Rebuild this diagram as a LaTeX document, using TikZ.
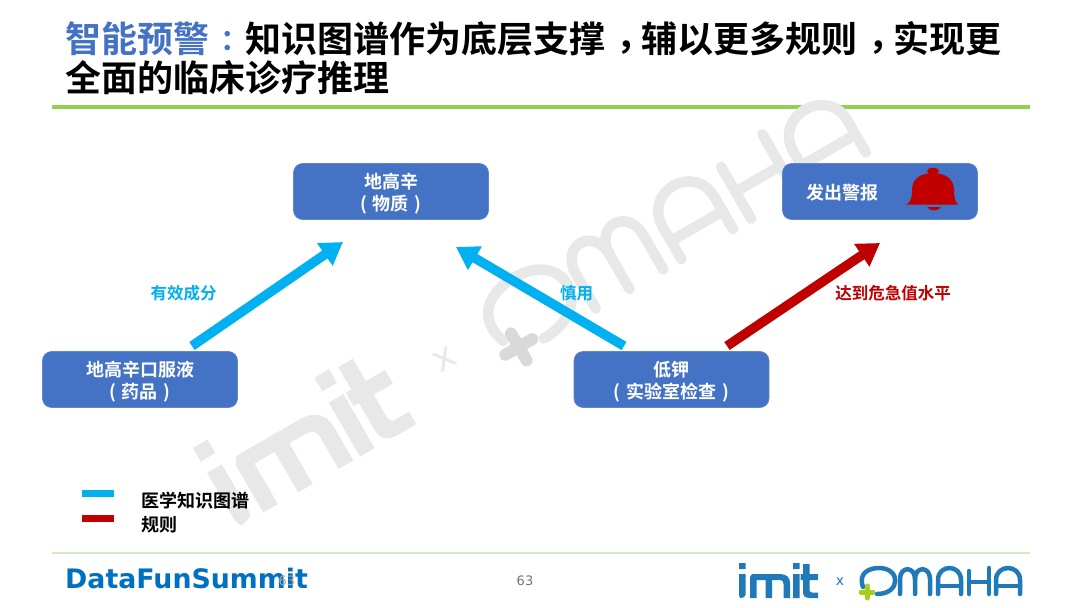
\documentclass[tikz,border=0pt]{standalone}
\usepackage{fontspec}
\setmainfont{Noto Sans CJK SC}[BoldFont={Noto Sans CJK SC Bold}]
\newfontfamily\punctfont{Noto Sans CJK SC}[BoldFont={Noto Sans CJK SC Bold},RawFeature=+halt]
\newfontfamily\latinfont{DejaVu Sans}
\usetikzlibrary{arrows.meta}
\definecolor{boxblue}{HTML}{4472C4}
\definecolor{kgcyan}{HTML}{00B0F0}
\definecolor{rulered}{HTML}{C00000}
\definecolor{titlegreen}{HTML}{92D050}
\definecolor{footgreen}{HTML}{D3EDB9}
\definecolor{dfblue}{HTML}{0070C0}
\definecolor{logoblue}{HTML}{2079B8}
\definecolor{logogreen}{HTML}{A6CE1E}
\definecolor{wm}{HTML}{E8E8E8}
\newcommand{\cma}{\hspace{11pt}\raisebox{3pt}{\punctfont ，}\hspace{7pt}}
\newcommand{\cln}{\hspace{11pt}\raisebox{2.5pt}{\punctfont\fontsize{29}{32}\selectfont ：}}
\tikzset{
  x=1pt,y=-1pt,
  box/.style={draw=boxblue!85!white,line width=.6pt,fill=boxblue,rounded corners=9pt,minimum width=195pt,minimum height=56pt,inner sep=0pt},
  boxtext/.style={inner sep=0pt,text=white,font=\bfseries\fontsize{18}{21.5}\selectfont,align=center},
  bigarrow/.style={line width=9.5pt,-{Triangle[length=22pt,width=26pt]}},
  lab/.style={font=\bfseries\fontsize{16.5}{20}\selectfont,inner sep=0pt},
  legendtext/.style={font=\bfseries\fontsize{18}{21}\selectfont,inner sep=0pt,anchor=west},
  titlebit/.style={font=\bfseries\fontsize{36}{42}\selectfont,inner sep=0pt,anchor=west},
}
% logo in its own frame; the footer logo has its origin at (739,565)
% #1 letter colour, #2 plus colour, #3 stroke width of OMAHA, #4 stroke width of the plus
\newcommand{\logopaths}[4]{%
  \fill[#1] (0,-2) rectangle (6.5,4) (0,9) rectangle (6.5,30) (6.5,30) .. controls (6.5,32) and (4,33) .. (1,33) -- (0,30) -- cycle;
  \fill[#1] (11,33) -- (11,12) -- (13,9) -- (41,9) .. controls (48,9) and (51,13) .. (51,18) -- (51,33) -- (44.5,33) -- (44.5,19) .. controls (44.5,16) and (43,15) .. (41,15) -- (33,15) -- (33,33) -- (26.5,33) -- (26.5,15) -- (17.5,15) -- (17.5,33) -- cycle;
  \fill[#1] (54,-2) rectangle (60.5,4) (54,9) rectangle (60.5,33);
  \fill[#1] (64,-1) -- (70.5,-1) -- (70.5,9) -- (79,9) -- (79,15) -- (70.5,15) -- (70.5,25) .. controls (70.5,27) and (72,27.5) .. (73,27.5) -- (79,27.5) -- (79,33) -- (71,33) .. controls (66,33) and (64,31) .. (64,27) -- (64,15) -- (61.5,15) -- (61.5,9) -- (64,9) -- cycle;
  \begin{scope}[line cap=round,line join=round,line width=#3]
  \draw[#1] (124,22) .. controls (119,8) and (130,3) .. (140,3) .. controls (162,3) and (162,29) .. (138,29);
  \draw[#1] (161,29) -- (161,14) .. controls (161,1) and (176,1) .. (176,14) -- (176,29);
  \draw[#1] (176,14) .. controls (176,1) and (191,1) .. (191,14) -- (191,29);
  \draw[#1] (199,29) -- (199,15) .. controls (199,-1) and (222,-1) .. (222,15) -- (222,29);
  \draw[#1] (199,21) -- (222,21);
  \draw[#1] (230,6) -- (230,29);
  \draw[#1] (230,17) -- (250,17);
  \draw[#1] (250,3) -- (250,29);
  \draw[#1] (257,29) -- (257,15) .. controls (257,-1) and (281,-1) .. (281,15) -- (281,29);
  \draw[#1] (257,21) -- (281,21);
  \end{scope}
  \draw[#2,line cap=round,line width=#4] (122,27) -- (134,27) (128,21) -- (128,33);
}
\begin{document}
\begin{tikzpicture}
\useasboundingbox (0,0) rectangle (1080,608);
\fill[white] (0,0) rectangle (1080,608);
\draw[titlegreen,line width=3.5pt] (52,107) -- (1030,107);
% watermark
\begin{scope}[shift={(195.5,452.5)},rotate=30,scale=2.6,transform shape]
  \logopaths{wm}{black!15}{10.5pt}{12pt}
  \node[font=\latinfont\fontsize{14}{16}\selectfont,text=wm,inner sep=0pt] (wmx) at (101,17) {x};
\end{scope}
% title
\node[titlebit,text=boxblue] (t1) at (65,39) {智能预警\cln};
\node[titlebit] (t2) at (245,39) {知识图谱作为底层支撑\cma 辅以更多规则\cma 实现更};
\node[titlebit] (t3) at (65,78) {全面的临床诊疗推理};
% boxes
\node[box] (drug) at (140,379.5) {};
\node[boxtext] (drugtext) at (140,381.5) {地高辛口服液\\(\hspace{6pt}药品\hspace{6pt})};
\node[box] (subst) at (391,191.5) {};
\node[boxtext] (substtext) at (391,193.5) {地高辛\\(\hspace{6pt}物质\hspace{6pt})};
\node[box] (lowk) at (671.5,379.5) {};
\node[boxtext] (lowktext) at (671.5,381.5) {低钾\\(\hspace{6pt}实验室检查\hspace{6pt})};
\node[box] (alert) at (880,191.5) {};
\node[boxtext] (alerttext) at (842.5,193) {发出警报};
% bell
\fill[rulered] (906,204.5) .. controls (910,203) and (912,199) .. (912,190) .. controls (912,178) and (922,173) .. (933,173) .. controls (944,173) and (954,178) .. (954,190) .. controls (954,199) and (956,203) .. (958,204.5) -- cycle;
\fill[rulered] (933,171) ellipse (6pt and 3.2pt);
\fill[rulered] (927,207) -- (941,207) .. controls (939,211.5) and (929,211.5) .. (927,207) -- cycle;
% arrows
\coordinate (a1s) at (192,346); \coordinate (a1e) at (343,242);
\coordinate (a2s) at (624,346); \coordinate (a2e) at (456,247);
\coordinate (a3s) at (727,346); \coordinate (a3e) at (880,243);
\draw[bigarrow,kgcyan] (a1s) -- (a1e);
\draw[bigarrow,kgcyan] (a2s) -- (a2e);
\draw[bigarrow,rulered] (a3s) -- (a3e);
\node[lab,text=kgcyan] (l1) at (183.5,293) {有效成分};
\node[lab,text=kgcyan] (l2) at (576.5,293) {慎用};
\node[lab,text=rulered] (l3) at (893,293) {达到危急值水平};
% legend
\fill[kgcyan] (82,490) rectangle (114,497);
\fill[rulered] (82,515) rectangle (114,522);
\node[legendtext] (lg1) at (141,501) {医学知识图谱};
\node[legendtext] (lg2) at (141,525) {规则};
% footer
\draw[footgreen,line width=1.2pt] (52,553) -- (1030,553);
\node[font=\latinfont\bfseries\fontsize{26.8}{30}\selectfont,text=dfblue,inner sep=0pt,anchor=west] (df) at (65,579) {DataFunSummit};
\node[font=\latinfont\fontsize{13}{16}\selectfont,text=black!35,inner sep=0pt] (pg1) at (287,581) {63};
\node[font=\latinfont\fontsize{13}{16}\selectfont,text=black!55,inner sep=0pt] (pg2) at (525,581) {63};
\begin{scope}[shift={(739,565)}]
  \logopaths{logoblue}{logogreen}{4.5pt}{5pt}
  \node[font=\latinfont\fontsize{14}{16}\selectfont,text=logoblue,inner sep=0pt] (logox) at (101,17) {x};
\end{scope}
\end{tikzpicture}
\end{document}
